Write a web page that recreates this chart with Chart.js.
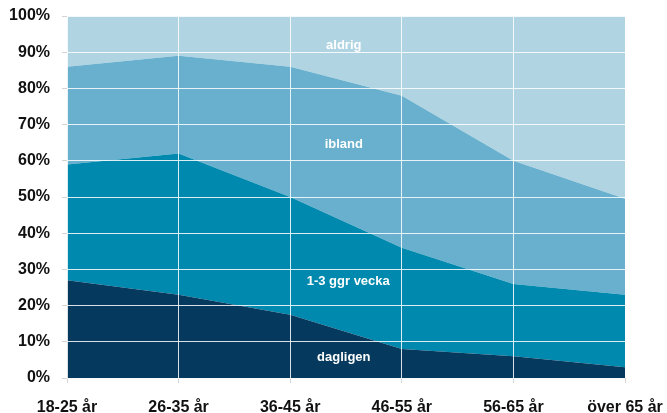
<!DOCTYPE html>
<html>
<head>
<meta charset="utf-8">
<script src="https://cdn.jsdelivr.net/npm/chart.js@4"></script>
<style>
html, body { margin: 0; padding: 0; background: #fff; }
#wrap { width: 667px; height: 413px; }
</style>
</head>
<body>
<div id="wrap"><canvas id="chart" width="667" height="413"></canvas></div>
<script>
const ageGroups = ["18-25 år", "26-35 år", "36-45 år", "46-55 år", "56-65 år", "över 65 år"]

const seriesNames = ["dagligen", "1-3 ggr vecka", "ibland", "aldrig"]
const dagligen = [27, 23, 17.5, 8, 6, 3]
const ggrVecka = [32, 39, 32.5, 28, 20, 20]
const ibland = [27, 27, 36, 42, 34, 26.5]
const aldrig = [14, 11, 14, 22, 40, 50.5]
const seriesColors = ["#053a5e", "#0089ae", "#68b0cd", "#b0d4e2"]

const yTicks = [0, 10, 20, 30, 40, 50, 60, 70, 80, 90, 100]

// where the series names sit, in data units (category index, percent)
const labelX = [2.48, 2.52, 2.48, 2.48]
const labelY = [5.8, 26.8, 64.6, 92]

const seriesData = [dagligen, ggrVecka, ibland, aldrig]

const FONT = "'Liberation Sans', Arial, sans-serif"

const seriesLabels = {
    id: "seriesLabels",
    afterDraw(chart) {
        const ctx = chart.ctx
        const xs = chart.scales.x
        const ys = chart.scales.y
        ctx.save()
        ctx.fillStyle = "#ffffff"
        ctx.font = "bold 13px " + FONT
        ctx.textAlign = "center"
        ctx.textBaseline = "middle"
        seriesNames.forEach((name, i) => {
            ctx.fillText(name, xs.getPixelForValue(labelX[i]), ys.getPixelForValue(labelY[i]))
        })
        ctx.restore()
    }
}

new Chart(document.getElementById("chart"), {
    type: "line",
    data: {
        labels: ageGroups,
        datasets: seriesData.map((d, i) => ({
            label: seriesNames[i],
            data: d,
            backgroundColor: seriesColors[i],
            borderWidth: 0,
            pointRadius: 0,
            tension: 0,
            fill: i == 0 ? "origin" : "-1"
        }))
    },
    options: {
        responsive: false,
        animation: false,
        layout: {
            padding: { top: 16, right: 42, left: 0, bottom: 0 }
        },
        plugins: {
            legend: { display: false },
            tooltip: { enabled: false }
        },
        scales: {
            x: {
                z: 1,
                offset: false,
                grid: {
                    z: 1,
                    color: "rgba(255,255,255,0.85)",
                    tickColor: "#d4d4d4",
                    tickLength: 5,
                    offset: false
                },
                border: { color: "#d4d4d4", z: 1 },
                ticks: {
                    color: "#111",
                    font: { family: FONT, size: 16, weight: "bold" },
                    padding: 15,
                    maxRotation: 0,
                    autoSkip: false
                },
                afterFit(scale) {
                    scale.height = 35
                    scale.paddingLeft = 0
                    scale.paddingRight = 0
                }
            },
            y: {
                z: 1,
                stacked: true,
                min: 0,
                max: 100,
                afterBuildTicks(scale) { scale.ticks = yTicks.map(v => ({ value: v })) },
                grid: {
                    z: 1,
                    color: "rgba(255,255,255,0.85)",
                    tickColor: "#d4d4d4",
                    tickLength: 5
                },
                border: { display: false },
                ticks: {
                    color: "#111",
                    font: { family: FONT, size: 16, weight: "bold" },
                    padding: 12,
                    callback: v => v + "%"
                },
                afterFit(scale) {
                    scale.width = 67
                    scale.paddingTop = 0
                    scale.paddingBottom = 0
                }
            }
        }
    },
    plugins: [seriesLabels]
})
</script>
</body>
</html>
